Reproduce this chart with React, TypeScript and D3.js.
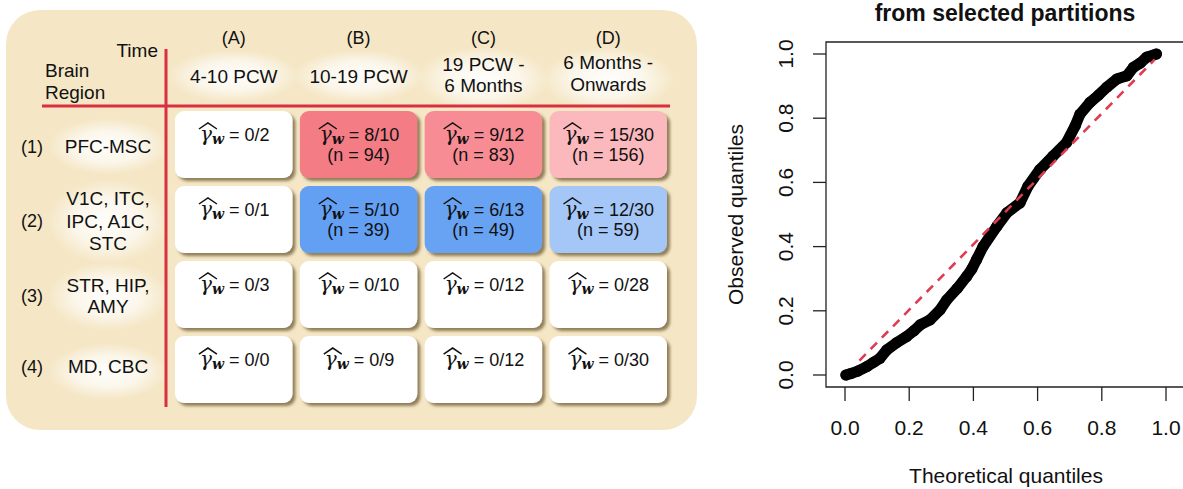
import React, { useEffect, useRef } from "react";
import * as d3 from "d3";

// ---------- data ----------
const timeLetters = ["(A)", "(B)", "(C)", "(D)"];
const timeLabels = [["4-10 PCW"], ["10-19 PCW"], ["19 PCW -", "6 Months"], ["6 Months -", "Onwards"]];
const regionNums = ["(1)", "(2)", "(3)", "(4)"];
const regionLabels = [["PFC-MSC"], ["V1C, ITC,", "IPC, A1C,", "STC"], ["STR, HIP,", "AMY"], ["MD, CBC"]];
const gammaNum = [
  [0, 8, 9, 15],
  [0, 5, 6, 12],
  [0, 0, 0, 0],
  [0, 0, 0, 0],
];
const gammaDen = [
  [2, 10, 12, 30],
  [1, 10, 13, 30],
  [3, 10, 12, 28],
  [0, 9, 12, 30],
];
const nValues: (number | null)[][] = [
  [null, 94, 83, 156],
  [null, 39, 49, 59],
  [null, null, null, null],
  [null, null, null, null],
];
const cellColors = [
  ["#ffffff", "#f47b85", "#f78c95", "#fbb8bd"],
  ["#ffffff", "#64a0f4", "#67a2f2", "#a4c7f7"],
  ["#ffffff", "#ffffff", "#ffffff", "#ffffff"],
  ["#ffffff", "#ffffff", "#ffffff", "#ffffff"],
];

const qqTheoretical = [0.003, 0.02, 0.04, 0.068, 0.09, 0.109, 0.13, 0.16, 0.192, 0.215, 0.234, 0.265, 0.296, 0.317, 0.35, 0.379, 0.395, 0.41, 0.43, 0.473, 0.504, 0.545, 0.57, 0.607, 0.648, 0.69, 0.717, 0.732, 0.763, 0.79, 0.815, 0.847, 0.878, 0.898, 0.92, 0.94, 0.97];
const qqObserved = [0.0, 0.005, 0.012, 0.026, 0.04, 0.052, 0.078, 0.1, 0.12, 0.138, 0.156, 0.172, 0.203, 0.234, 0.27, 0.307, 0.33, 0.36, 0.4, 0.463, 0.505, 0.536, 0.588, 0.64, 0.682, 0.724, 0.776, 0.8125, 0.849, 0.872, 0.896, 0.922, 0.932, 0.958, 0.972, 0.99, 1.0];
const refLineX = [0.045, 0.965];
const refLineY = [0.045, 0.983];
const axisTicks = [0, 0.2, 0.4, 0.6, 0.8, 1.0];

const SANS = "'Liberation Sans', Arial, Helvetica, sans-serif";
const SERIF = "'DejaVu Serif', 'Liberation Serif', serif";

export default function App() {
  const ref = useRef<SVGSVGElement>(null);

  useEffect(() => {
    const svg = d3.select(ref.current);
    svg.selectAll("*").remove();

    const defs = svg.append("defs");
    const rg = defs.append("radialGradient").attr("id", "glow");
    rg.append("stop").attr("offset", "0%").attr("stop-color", "#fff").attr("stop-opacity", 0.95);
    rg.append("stop").attr("offset", "55%").attr("stop-color", "#fff").attr("stop-opacity", 0.65);
    rg.append("stop").attr("offset", "100%").attr("stop-color", "#fff").attr("stop-opacity", 0);
    const f = defs
      .append("filter")
      .attr("id", "shadow")
      .attr("x", "-10%")
      .attr("y", "-10%")
      .attr("width", "130%")
      .attr("height", "130%");
    f.append("feDropShadow")
      .attr("dx", 3)
      .attr("dy", 3)
      .attr("stdDeviation", 1.4)
      .attr("flood-color", "#6e5c30")
      .attr("flood-opacity", 0.75);

    // ---------- left panel ----------
    const left = svg.append("g");
    left
      .append("rect")
      .attr("x", 6)
      .attr("y", 10)
      .attr("width", 691)
      .attr("height", 420)
      .attr("rx", 34)
      .attr("fill", "#f5e7c6");

    const colIdx = d3.range(4);
    const x = d3.scaleBand<number>().domain(colIdx).range([175, 667]).paddingInner(0.0587).paddingOuter(0);
    const y = d3.scaleBand<number>().domain(colIdx).range([111, 403]).paddingInner(0.1067).paddingOuter(0);

    // header glows
    timeLabels.forEach((lines, i) => {
      const cx = x(i)! + x.bandwidth() / 2;
      left
        .append("ellipse")
        .attr("cx", cx)
        .attr("cy", lines.length > 1 ? 79 : 76)
        .attr("rx", 66)
        .attr("ry", lines.length > 1 ? 32 : 26)
        .attr("fill", "url(#glow)");
    });
    regionLabels.forEach((lines, i) => {
      const cy = y(i)! + y.bandwidth() / 2;
      left
        .append("ellipse")
        .attr("cx", 108)
        .attr("cy", cy + 2)
        .attr("rx", 60)
        .attr("ry", lines.length === 3 ? 42 : lines.length === 2 ? 34 : 28)
        .attr("fill", "url(#glow)");
    });

    // red divider lines
    left.append("line").attr("x1", 166).attr("x2", 166).attr("y1", 49).attr("y2", 407).attr("stroke", "#d9303f").attr("stroke-width", 3);
    left.append("line").attr("x1", 42).attr("x2", 670).attr("y1", 106).attr("y2", 106).attr("stroke", "#d9303f").attr("stroke-width", 3);

    // corner labels
    left.append("text").attr("x", 158).attr("y", 57).attr("text-anchor", "end").attr("font-family", SANS).attr("font-size", 19).attr("fill", "#111").text("Time");
    left.append("text").attr("x", 45).attr("y", 77).attr("font-family", SANS).attr("font-size", 19).attr("fill", "#111").text("Brain");
    left.append("text").attr("x", 45).attr("y", 99).attr("font-family", SANS).attr("font-size", 19).attr("fill", "#111").text("Region");

    // column headers
    timeLetters.forEach((t, i) => {
      const cx = x(i)! + x.bandwidth() / 2;
      left.append("text").attr("x", cx).attr("y", 44).attr("text-anchor", "middle").attr("font-family", SANS).attr("font-size", 18).attr("fill", "#111").text(t);
      const lines = timeLabels[i];
      const base = lines.length > 1 ? (i === 3 ? [69, 91] : [71, 92]) : [83];
      lines.forEach((l, k) => {
        left.append("text").attr("x", cx).attr("y", base[k]).attr("text-anchor", "middle").attr("font-family", SANS).attr("font-size", 19).attr("fill", "#111").text(l);
      });
    });

    // row labels
    const rowBases = [[153], [205, 228, 250], [292, 313], [373]];
    const numBases = [153, 227, 302, 373];
    regionLabels.forEach((lines, i) => {
      left.append("text").attr("x", 32).attr("y", numBases[i]).attr("text-anchor", "middle").attr("font-family", SANS).attr("font-size", 18).attr("fill", "#111").text(regionNums[i]);
      lines.forEach((l, k) => {
        left.append("text").attr("x", 108).attr("y", rowBases[i][k]).attr("text-anchor", "middle").attr("font-family", SANS).attr("font-size", 19).attr("fill", "#111").text(l);
      });
    });

    // cells
    colIdx.forEach((r) => {
      colIdx.forEach((c) => {
        const x0 = x(c)!;
        const y0 = y(r)!;
        const g = left.append("g");
        g.append("rect")
          .attr("x", x0)
          .attr("y", y0)
          .attr("width", x.bandwidth())
          .attr("height", y.bandwidth())
          .attr("rx", 9)
          .attr("fill", cellColors[r][c])
          .attr("filter", "url(#shadow)");
        const cx = x0 + x.bandwidth() / 2;
        const b1 = y0 + 30;
        const t = g.append("text").attr("x", cx + 1).attr("y", b1).attr("text-anchor", "middle").attr("fill", "#111");
        t.append("tspan").attr("font-family", SERIF).attr("font-style", "italic").attr("font-size", 20).text("γ");
        t.append("tspan").attr("font-family", SERIF).attr("font-style", "italic").attr("font-weight", "bold").attr("font-size", 14).attr("dy", 3).text("w");
        t.append("tspan").attr("font-family", SANS).attr("font-size", 18).attr("dy", -3).text(` = ${gammaNum[r][c]}/${gammaDen[r][c]}`);
        // wide hat over gamma
        try {
          const node = t.node() as SVGTextElement;
          const ext = node.getExtentOfChar(0);
          const hx0 = ext.x - 1;
          const hx1 = ext.x + ext.width + 5;
          g.append("path")
            .attr("d", `M${hx0},${b1 - 12} L${(hx0 + hx1) / 2},${b1 - 18} L${hx1},${b1 - 12}`)
            .attr("fill", "none")
            .attr("stroke", "#111")
            .attr("stroke-width", 1.5)
            .attr("stroke-linejoin", "miter");
        } catch (e) {
          /* ignore */
        }
        const n = nValues[r][c];
        if (n !== null) {
          g.append("text").attr("x", cx).attr("y", y0 + 50).attr("text-anchor", "middle").attr("font-family", SANS).attr("font-size", 18).attr("fill", "#111").text(`(n = ${n})`);
        }
      });
    });

    // ---------- right panel: QQ plot ----------
    const xs = d3.scaleLinear().domain([0, 1]).range([845, 1166]);
    const ys = d3.scaleLinear().domain([0, 1]).range([375, 54]);
    const right = svg.append("g");
    const boxL = 826, boxT = 42, boxB = 387, boxR = 1200;
    right
      .append("path")
      .attr("d", `M${boxR},${boxT} L${boxL},${boxT} L${boxL},${boxB} L${boxR},${boxB}`)
      .attr("fill", "none")
      .attr("stroke", "#222")
      .attr("stroke-width", 1.3);

    axisTicks.forEach((v) => {
      right.append("line").attr("x1", xs(v)).attr("x2", xs(v)).attr("y1", boxB).attr("y2", 401).attr("stroke", "#222").attr("stroke-width", 1.3);
      right.append("text").attr("x", xs(v)).attr("y", 435).attr("text-anchor", "middle").attr("font-family", SANS).attr("font-size", 21).attr("fill", "#111").text(v.toFixed(1));
      right.append("line").attr("x1", 813).attr("x2", boxL).attr("y1", ys(v)).attr("y2", ys(v)).attr("stroke", "#222").attr("stroke-width", 1.3);
      right
        .append("text")
        .attr("transform", `translate(793,${ys(v)}) rotate(-90)`)
        .attr("text-anchor", "middle")
        .attr("font-family", SANS)
        .attr("font-size", 21)
        .attr("fill", "#111")
        .text(v.toFixed(1));
    });

    right.append("text").attr("x", 1006).attr("y", 483).attr("text-anchor", "middle").attr("font-family", SANS).attr("font-size", 21).attr("fill", "#111").text("Theoretical quantiles");
    right
      .append("text")
      .attr("transform", `translate(743,${(boxT + boxB) / 2}) rotate(-90)`)
      .attr("text-anchor", "middle")
      .attr("font-family", SANS)
      .attr("font-size", 21)
      .attr("fill", "#111")
      .text("Observed quantiles");
    right.append("text").attr("x", 1005).attr("y", 21).attr("text-anchor", "middle").attr("font-family", SANS).attr("font-weight", "bold").attr("font-size", 23).attr("fill", "#111").text("from selected partitions");

    const pts = qqTheoretical.map((v, i) => [v, qqObserved[i]] as [number, number]);
    const line = d3.line<[number, number]>().x((d) => xs(d[0])).y((d) => ys(d[1])).curve(d3.curveLinear);
    right.append("path").attr("d", line(pts)!).attr("fill", "none").attr("stroke", "#000").attr("stroke-width", 11).attr("stroke-linejoin", "round").attr("stroke-linecap", "round");
    right
      .selectAll("circle.pt")
      .data(pts)
      .enter()
      .append("circle")
      .attr("class", "pt")
      .attr("cx", (d) => xs(d[0]))
      .attr("cy", (d) => ys(d[1]))
      .attr("r", 5.6)
      .attr("fill", "#000");

    right
      .append("line")
      .attr("x1", xs(refLineX[0]))
      .attr("y1", ys(refLineY[0]))
      .attr("x2", xs(refLineX[1]))
      .attr("y2", ys(refLineY[1]))
      .attr("stroke", "#df3b52")
      .attr("stroke-width", 2.6)
      .attr("stroke-dasharray", "9,7");
  }, []);

  return <svg ref={ref} width={1183} height={489} style={{ position: "absolute", left: 0, top: 0, background: "#fff" }} />;
}
